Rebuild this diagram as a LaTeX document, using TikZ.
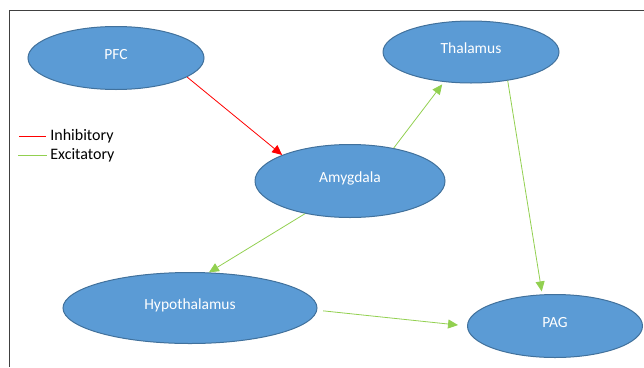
\documentclass[tikz,border=0pt]{standalone}
\usepackage{fontspec}
\setmainfont{Carlito}
\usepackage{tikz}
\usetikzlibrary{shapes.geometric,arrows.meta}

\definecolor{regionfill}{HTML}{5B9BD5}
\definecolor{regionline}{HTML}{41719C}
\definecolor{inhibred}{HTML}{FF0000}
\definecolor{excitgreen}{HTML}{92D050}

\begin{document}
\begin{tikzpicture}[x=1pt, y=-1pt,
  region/.style={ellipse, draw=regionline, fill=regionfill, line width=1pt,
    text=white, inner sep=0pt, text depth=7pt, font=\fontsize{15.5}{18}\selectfont},
  inhib/.style={draw=inhibred, line width=0.8pt, -{Triangle[length=10pt, width=9pt]}},
  excit/.style={draw=excitgreen, line width=0.8pt, -{Triangle[length=10pt, width=9pt]}}
  ]
  \useasboundingbox (0,0) rectangle (644,367);
  \draw[color=black!75, line width=1pt] (644,10) -- (9,10) -- (9,367);

  \node (pfc) [region, minimum width=176pt, minimum height=63pt] at (116,58) {PFC};
  \node (thal) [region, minimum width=176pt, minimum height=62pt] at (471,52) {Thalamus};
  \node (amyg) [region, minimum width=190pt, minimum height=73pt] at (350,181) {Amygdala};
  \node (hypo) [region, minimum width=254pt, minimum height=71pt] at (190,308) {Hypothalamus};
  \node (pag) [region, minimum width=175pt, minimum height=63pt] at (555,326) {PAG};

  % legend
  \draw[draw=inhibred, line width=0.8pt] (19,136) -- (46,136)
    node (inhibtxt) [right, inner sep=4pt, font=\fontsize{16}{18}\selectfont] {Inhibitory};
  \draw[draw=excitgreen, line width=0.8pt] (18,155) -- (47,155)
    node (excittxt) [right, inner sep=3pt, font=\fontsize{16}{18}\selectfont] {Excitatory};

  \path[inhib] (pfc.-15) -- (amyg.159);
  \path[excit, shorten >=3pt] (amyg.37) -- (thal.-132);
  \path[excit, shorten >=3pt] (thal.-38) -- (pag.112);
  \path[excit] (amyg.-144) -- (hypo.62);
  \path[excit, shorten <=6pt, shorten >=9pt] (hypo.-1) -- (pag.180);
\end{tikzpicture}
\end{document}
